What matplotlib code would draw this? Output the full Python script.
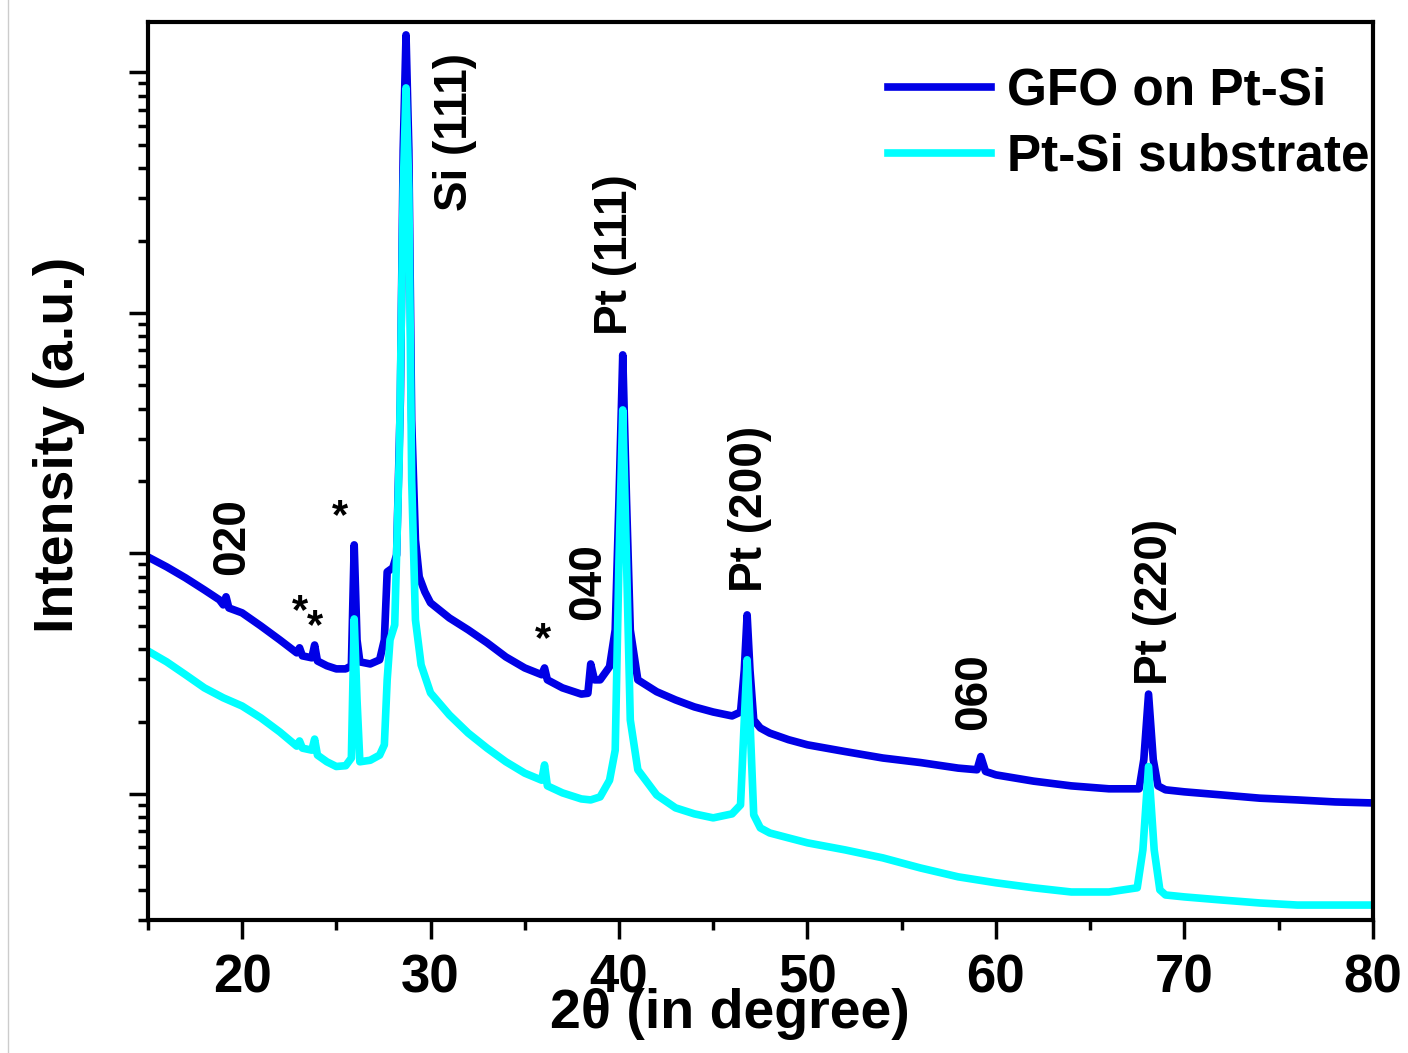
import matplotlib
matplotlib.use('Agg')
import matplotlib.pyplot as plt
from matplotlib.lines import Line2D
from matplotlib.ticker import LogLocator, NullFormatter, MultipleLocator

plt.rcParams['font.family'] = ['Liberation Sans', 'DejaVu Sans']
plt.rcParams['font.weight'] = 'bold'

# GFO film on Pt-Si (2theta in degree, intensity in counts)
gfo_2theta = [15.0, 16.0, 17.0, 18.0, 18.8, 19.0, 19.15, 19.3, 20.0, 21.0, 22.0, 22.9,
              23.05, 23.2, 23.7, 23.85, 24.0, 24.5, 25.0, 25.5, 25.8, 25.95, 26.1, 26.25,
              26.8, 27.3, 27.55, 27.7, 28.0, 28.2, 28.4, 28.55, 28.7, 28.85, 29.0, 29.2,
              29.4, 29.7, 30.0, 31.0, 32.0, 33.0, 34.0, 35.0, 35.9, 36.05, 36.2, 37.0,
              38.0, 38.35, 38.5, 38.7, 39.0, 39.5, 39.8, 40.0, 40.2, 40.4, 40.6, 41.0,
              42.0, 43.0, 44.0, 45.0, 46.0, 46.45, 46.65, 46.8, 46.95, 47.15, 47.5, 48.0,
              49.0, 50.0, 52.0, 54.0, 56.0, 58.0, 59.0, 59.2, 59.45, 60.0, 62.0, 64.0,
              66.0, 67.6, 67.85, 68.1, 68.35, 68.6, 69.0, 70.0, 72.0, 74.0, 76.0, 78.0, 80.0]
gfo_counts = [967, 879, 791, 705, 641, 611, 660, 593, 566, 499, 437, 386,
              405, 375, 368, 416, 357, 341, 331, 331, 341, 1085, 437, 354,
              347, 361, 437, 838, 871, 986, 4350, 47600, 143200, 47600, 3590, 1138,
              799, 692, 623, 539, 481, 425, 371, 334, 313, 334, 298, 276,
              260, 262, 347, 298, 298, 338, 481, 1669, 6690, 1669, 481, 298,
              266, 246, 230, 219, 211, 219, 328, 555, 328, 203, 188, 179,
              168, 160, 150, 141, 135, 128, 126, 143, 124, 120, 113, 108,
              105, 105, 139, 260, 139, 108, 104, 102, 99, 96, 94.4, 92.6, 91.7]

# bare Pt-Si substrate
sub_2theta = [15.0, 16.0, 17.0, 18.0, 19.0, 20.0, 21.0, 22.0, 22.9, 23.05, 23.2, 23.7,
              23.85, 24.0, 24.5, 25.0, 25.5, 25.8, 25.95, 26.1, 26.25, 26.8, 27.3, 27.55,
              27.7, 27.85, 28.1, 28.35, 28.55, 28.7, 28.85, 29.0, 29.2, 29.5, 30.0, 31.0,
              32.0, 33.0, 34.0, 35.0, 35.9, 36.05, 36.2, 37.0, 38.0, 38.5, 39.0, 39.5,
              39.8, 40.0, 40.2, 40.4, 40.6, 41.0, 42.0, 43.0, 44.0, 45.0, 46.0, 46.45,
              46.65, 46.8, 46.95, 47.15, 47.5, 48.0, 49.0, 50.0, 52.0, 54.0, 56.0, 58.0,
              60.0, 62.0, 64.0, 66.0, 67.5, 67.8, 68.1, 68.4, 68.7, 69.0, 70.0, 72.0,
              74.0, 76.0, 78.0, 80.0]
sub_counts = [393, 354, 313, 276, 251, 232, 207, 181, 158, 166, 155, 152,
              169, 145, 136, 130, 131, 141, 534, 246, 136, 138, 145, 160,
              298, 437, 504, 2690, 32500, 86200, 32500, 2020, 529, 344, 263, 213,
              179, 155, 136, 122, 114, 132, 108, 101, 95.3, 94.4, 97.2, 114,
              152, 940, 3950, 940, 203, 126, 99, 87.5, 82.6, 79.5, 82.6, 90.0,
              203, 361, 203, 81.8, 72.2, 68.8, 65.6, 62.6, 58.5, 54.2, 49.2, 45.2,
              42.7, 40.7, 39.1, 39.1, 40.7, 58.5, 130, 58.5, 39.9, 38.0, 37.3, 36.2,
              35.2, 34.5, 34.5, 34.5]

series_labels = ['GFO on Pt-Si', 'Pt-Si substrate']
series_colors = ['#0000e6', '#00ffff']

# peak labels: text, 2theta, bottom of text (axes fraction)
peak_labels = [('020', 19.46, 0.384), ('Si (111)', 31.3, 0.79), ('040', 38.34, 0.334),
               ('Pt (111)', 39.77, 0.651), ('Pt (200)', 46.94, 0.365),
               ('060', 58.87, 0.212), ('Pt (220)', 68.42, 0.262)]
star_marks = [(23.06, 0.343), (23.86, 0.326), (25.19, 0.449), (35.95, 0.312)]

fig = plt.figure(figsize=(14.08, 10.53), dpi=100)
ax = fig.add_axes([0.105, 0.1263, 0.870, 0.8528])

ax.plot(gfo_2theta, gfo_counts, color=series_colors[0], lw=5.5,
        solid_joinstyle='round', label=series_labels[0])
ax.plot(sub_2theta, sub_counts, color=series_colors[1], lw=5.5,
        solid_joinstyle='round', label=series_labels[1])

ax.set_yscale('log')
ax.set_xlim(15, 80)
ax.set_ylim(29.9, 162000)

ax.xaxis.set_major_locator(MultipleLocator(10))
ax.xaxis.set_minor_locator(MultipleLocator(5))
ax.yaxis.set_major_locator(LogLocator(base=10))
ax.yaxis.set_minor_locator(LogLocator(base=10, subs=range(2, 10)))
ax.yaxis.set_major_formatter(NullFormatter())
ax.yaxis.set_minor_formatter(NullFormatter())

ax.tick_params(axis='both', which='major', direction='out', length=14, width=2.5,
               labelsize=38, top=False, right=False, pad=10)
ax.tick_params(axis='both', which='minor', direction='out', length=7, width=2.5,
               top=False, right=False)
for lab in ax.get_xticklabels():
    lab.set_fontweight('bold')
for sp in ax.spines.values():
    sp.set_linewidth(3)

ax.set_xlabel('2θ (in degree)', fontsize=40, fontweight='bold')
ax.xaxis.set_label_coords(0.475, -0.076)
ax.set_ylabel('Intensity (a.u.)', fontsize=40, fontweight='bold')
ax.yaxis.set_label_coords(-0.051, 0.529)

xt = ax.get_xaxis_transform()
for txt, xpos, ybot in peak_labels:
    ax.text(xpos, ybot, txt, rotation=90, ha='center', va='bottom', transform=xt,
            fontsize=33, fontweight='bold')
for xpos, ypos in star_marks:
    ax.text(xpos, ypos, '*', ha='center', va='center', transform=xt,
            fontsize=30, fontweight='bold')

ax.legend(loc='upper right', bbox_to_anchor=(0.997, 0.95), frameon=False,
          prop={'size': 37, 'weight': 'bold'}, handlelength=2.0, handletextpad=0.3,
          labelspacing=0.33, borderpad=0.0, borderaxespad=0.0)

fig.add_artist(Line2D([0.0057, 0.0057], [0, 1], color='#cccccc', lw=1))

fig.savefig('out.png', dpi=100)
